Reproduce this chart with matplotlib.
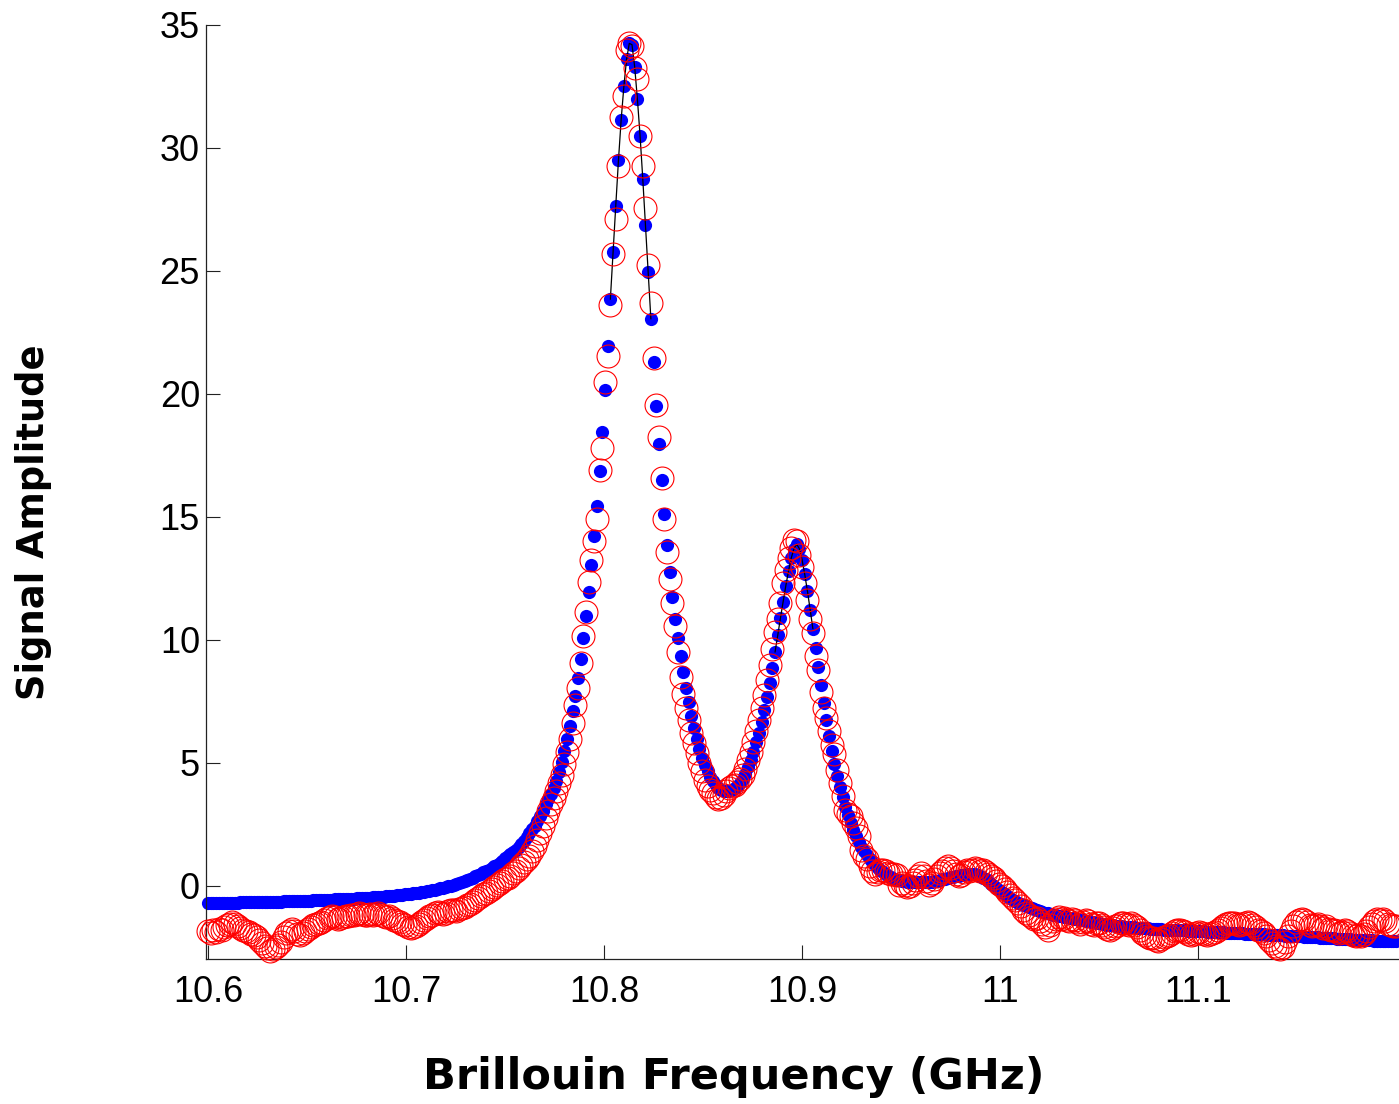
import numpy as np
import matplotlib
matplotlib.use("Agg")
from matplotlib import pyplot as plt

# frequency sweep (GHz), one sample per point
freqStart = 10.6
freqStop = 11.2

# fitted spectrum (blue dots)
fitAmplitude = [
    -0.71, -0.71, -0.71, -0.71, -0.70, -0.70, -0.70, -0.70, -0.70, -0.70,
    -0.70, -0.70, -0.69, -0.69, -0.69, -0.69, -0.69, -0.68, -0.68, -0.68,
    -0.68, -0.68, -0.67, -0.67, -0.67, -0.66, -0.66, -0.66, -0.65, -0.65,
    -0.65, -0.64, -0.64, -0.63, -0.63, -0.62, -0.62, -0.61, -0.61, -0.60,
    -0.60, -0.59, -0.59, -0.58, -0.58, -0.57, -0.57, -0.56, -0.56, -0.55,
    -0.55, -0.54, -0.54, -0.53, -0.53, -0.52, -0.52, -0.51, -0.50, -0.50,
    -0.49, -0.48, -0.47, -0.47, -0.46, -0.45, -0.44, -0.43, -0.42, -0.41,
    -0.40, -0.39, -0.38, -0.36, -0.35, -0.34, -0.32, -0.31, -0.29, -0.27,
    -0.25, -0.23, -0.21, -0.19, -0.17, -0.14, -0.12, -0.09, -0.06, -0.03,
    0.00, 0.04, 0.07, 0.11, 0.15, 0.19, 0.23, 0.27, 0.32, 0.37,
    0.42, 0.47, 0.53, 0.59, 0.65, 0.71, 0.78, 0.85, 0.93, 1.01,
    1.10, 1.18, 1.27, 1.36, 1.46, 1.57, 1.68, 1.81, 1.96, 2.12,
    2.28, 2.44, 2.62, 2.82, 3.05, 3.30, 3.50, 3.72, 3.96, 4.24,
    4.60, 5.02, 5.48, 5.97, 6.50, 7.08, 7.72, 8.42, 9.20, 10.05,
    10.95, 11.95, 13.05, 14.20, 15.45, 16.85, 18.45, 20.15, 21.95, 23.85,
    25.75, 27.65, 29.50, 31.15, 32.50, 33.60, 34.25, 34.20, 33.30, 32.00,
    30.50, 28.75, 26.85, 24.95, 23.05, 21.30, 19.50, 17.95, 16.50, 15.10,
    13.85, 12.75, 11.75, 10.85, 10.05, 9.35, 8.70, 8.05, 7.45, 6.90,
    6.40, 5.95, 5.55, 5.20, 4.90, 4.65, 4.43, 4.25, 4.10, 3.98,
    3.90, 3.85, 3.83, 3.84, 3.88, 3.95, 4.05, 4.18, 4.35, 4.55,
    4.80, 5.10, 5.45, 5.82, 6.22, 6.65, 7.12, 7.65, 8.22, 8.85,
    9.50, 10.18, 10.88, 11.55, 12.20, 12.80, 13.32, 13.70, 13.88, 13.70,
    13.25, 12.65, 11.97, 11.22, 10.45, 9.67, 8.90, 8.15, 7.42, 6.72,
    6.07, 5.47, 4.93, 4.45, 4.00, 3.58, 3.20, 2.85, 2.53, 2.25,
    2.00, 1.77, 1.57, 1.39, 1.23, 1.09, 0.96, 0.84, 0.73, 0.63,
    0.54, 0.46, 0.39, 0.33, 0.28, 0.24, 0.21, 0.19, 0.17, 0.16,
    0.15, 0.14, 0.14, 0.13, 0.13, 0.13, 0.14, 0.15, 0.16, 0.18,
    0.20, 0.22, 0.25, 0.27, 0.30, 0.33, 0.35, 0.38, 0.40, 0.42,
    0.44, 0.45, 0.46, 0.46, 0.45, 0.42, 0.38, 0.32, 0.25, 0.17,
    0.08, -0.01, -0.10, -0.19, -0.28, -0.36, -0.44, -0.51, -0.58, -0.64,
    -0.70, -0.75, -0.80, -0.85, -0.89, -0.93, -0.97, -1.01, -1.04, -1.07,
    -1.10, -1.13, -1.16, -1.18, -1.21, -1.23, -1.26, -1.28, -1.30, -1.32,
    -1.34, -1.36, -1.38, -1.40, -1.42, -1.44, -1.46, -1.48, -1.50, -1.52,
    -1.54, -1.56, -1.57, -1.59, -1.60, -1.62, -1.63, -1.64, -1.66, -1.67,
    -1.68, -1.69, -1.70, -1.70, -1.71, -1.72, -1.73, -1.74, -1.74, -1.75,
    -1.76, -1.77, -1.77, -1.78, -1.79, -1.79, -1.80, -1.80, -1.81, -1.82,
    -1.82, -1.83, -1.83, -1.84, -1.85, -1.85, -1.86, -1.86, -1.87, -1.87,
    -1.88, -1.88, -1.89, -1.90, -1.90, -1.91, -1.91, -1.92, -1.92, -1.93,
    -1.94, -1.94, -1.95, -1.95, -1.96, -1.96, -1.97, -1.97, -1.98, -1.98,
    -1.99, -1.99, -2.00, -2.00, -2.01, -2.02, -2.02, -2.03, -2.03, -2.04,
    -2.04, -2.05, -2.05, -2.06, -2.07, -2.07, -2.08, -2.08, -2.09, -2.10,
    -2.10, -2.11, -2.12, -2.12, -2.13, -2.14, -2.14, -2.15, -2.16, -2.16,
    -2.17, -2.18, -2.18, -2.19, -2.20, -2.20, -2.21, -2.21, -2.22, -2.22,
    -2.23, -2.23, -2.24, -2.24, -2.25, -2.25, -2.25, -2.26, -2.26, -2.27,
    -2.27,
]

# measured spectrum (red circles)
measAmplitude = [
    -1.85, -1.92, -1.80, -1.88, -1.76, -1.83, -1.70, -1.62, -1.55, -1.50,
    -1.58, -1.66, -1.72, -1.80, -1.84, -1.90, -1.96, -2.02, -2.10, -2.20,
    -2.35, -2.48, -2.56, -2.66, -2.60, -2.52, -2.40, -2.28, -2.10, -1.95,
    -1.84, -1.78, -1.85, -1.96, -2.02, -1.94, -1.84, -1.78, -1.70, -1.62,
    -1.58, -1.54, -1.50, -1.42, -1.34, -1.28, -1.24, -1.30, -1.36, -1.33,
    -1.30, -1.26, -1.22, -1.18, -1.20, -1.16, -1.12, -1.17, -1.21, -1.19,
    -1.16, -1.18, -1.14, -1.12, -1.18, -1.25, -1.28, -1.24, -1.32, -1.40,
    -1.44, -1.50, -1.56, -1.62, -1.68, -1.72, -1.70, -1.64, -1.55, -1.48,
    -1.40, -1.34, -1.26, -1.18, -1.10, -1.06, -1.12, -1.16, -1.10, -1.04,
    -1.00, -0.98, -1.02, -0.97, -0.92, -0.86, -0.80, -0.74, -0.66, -0.58,
    -0.50, -0.44, -0.36, -0.30, -0.22, -0.15, -0.06, 0.02, 0.10, 0.18,
    0.26, 0.32, 0.40, 0.50, 0.60, 0.72, 0.84, 0.96, 1.08, 1.22,
    1.40, 1.62, 1.86, 2.12, 2.42, 2.74, 3.02, 3.30, 3.55, 3.85,
    4.15, 4.50, 4.95, 5.45, 5.95, 6.60, 7.35, 8.05, 9.05, 10.14,
    11.11, 12.33, 13.23, 14.00, 14.91, 16.89, 17.80, 20.47, 21.55, 23.59,
    25.69, 27.12, 29.25, 31.26, 32.13, 34.00, 34.25, 34.15, 33.25, 32.80,
    30.47, 29.25, 27.56, 25.25, 23.70, 21.46, 19.56, 18.25, 16.58, 14.91,
    13.55, 12.47, 11.47, 10.57, 9.50, 8.50, 7.80, 7.20, 6.75, 6.20,
    5.80, 5.40, 5.00, 4.65, 4.30, 4.05, 3.90, 3.75, 3.60, 3.50,
    3.55, 3.70, 3.85, 3.95, 4.05, 4.10, 4.20, 4.35, 4.50, 4.75,
    5.10, 5.45, 5.85, 6.30, 6.75, 7.20, 7.75, 8.35, 8.95, 9.60,
    10.30, 10.85, 11.50, 12.30, 12.85, 13.33, 13.73, 14.05, 14.00, 13.45,
    12.95, 12.30, 11.60, 10.85, 10.25, 9.35, 8.75, 7.85, 7.20, 6.82,
    6.27, 5.73, 5.33, 4.70, 4.18, 3.63, 3.09, 2.90, 2.82, 2.55,
    2.35, 2.00, 1.46, 1.20, 1.06, 0.80, 0.60, 0.45, 0.55, 0.62,
    0.65, 0.58, 0.50, 0.46, 0.45, 0.42, 0.04, 0.10, 0.02, -0.05,
    -0.03, 0.10, 0.22, 0.38, 0.52, 0.40, 0.20, 0.04, 0.10, 0.25,
    0.40, 0.52, 0.60, 0.70, 0.78, 0.72, 0.60, 0.45, 0.38, 0.42,
    0.55, 0.65, 0.60, 0.65, 0.72, 0.68, 0.60, 0.65, 0.55, 0.45,
    0.38, 0.30, 0.18, 0.05, -0.03, -0.15, -0.28, -0.40, -0.50, -0.57,
    -0.70, -0.85, -1.00, -1.11, -1.20, -1.28, -1.38, -1.34, -1.45, -1.55,
    -1.70, -1.79, -1.60, -1.45, -1.38, -1.30, -1.36, -1.31, -1.40, -1.45,
    -1.38, -1.42, -1.50, -1.56, -1.48, -1.40, -1.46, -1.55, -1.60, -1.52,
    -1.52, -1.60, -1.70, -1.78, -1.79, -1.72, -1.66, -1.60, -1.54, -1.52,
    -1.56, -1.62, -1.52, -1.60, -1.70, -1.80, -1.92, -2.00, -2.08, -2.13,
    -2.13, -2.20, -2.26, -2.18, -2.10, -2.06, -2.00, -1.92, -1.86, -1.80,
    -1.79, -1.84, -1.90, -1.96, -2.00, -1.96, -1.93, -1.88, -1.92, -1.98,
    -2.02, -1.98, -1.93, -1.88, -1.80, -1.72, -1.64, -1.58, -1.54, -1.52,
    -1.52, -1.56, -1.62, -1.58, -1.52, -1.50, -1.52, -1.60, -1.70, -1.79,
    -1.85, -1.92, -2.05, -2.20, -2.35, -2.47, -2.55, -2.60, -2.50, -2.30,
    -2.06, -1.85, -1.65, -1.50, -1.42, -1.38, -1.40, -1.50, -1.60, -1.66,
    -1.62, -1.58, -1.66, -1.72, -1.66, -1.75, -1.80, -1.79, -1.86, -1.92,
    -1.88, -1.79, -1.84, -1.95, -2.02, -2.06, -2.00, -2.06, -1.98, -1.86,
    -1.70, -1.55, -1.45, -1.38, -1.40, -1.38, -1.46, -1.55, -1.62, -1.66,
    -1.66,
]

# frequency windows where the peak fit line is drawn (GHz)
peakWindows = [(10.8028, 10.8238), (10.8858, 10.9068)]

xTicks = [10.6, 10.7, 10.8, 10.9, 11.0, 11.1]
xTickLabels = ["10.6", "10.7", "10.8", "10.9", "11", "11.1"]
yTicks = [0, 5, 10, 15, 20, 25, 30, 35]


def setAxis(axis):
    axis.set_xlim(10.5987, 11.2015)
    axis.set_ylim(-3, 35)
    axis.spines["top"].set_visible(False)
    axis.spines["right"].set_visible(False)
    for side in ("left", "bottom"):
        axis.spines[side].set_color("#222222")
        axis.spines[side].set_linewidth(0.9)
    axis.set_xticks(xTicks)
    axis.set_xticklabels(xTickLabels)
    axis.set_yticks(yTicks)
    axis.tick_params(direction="in", length=10, width=0.8, colors="#222222",
                     labelcolor="black", labelsize=26)
    axis.tick_params(axis="x", pad=11)
    axis.tick_params(axis="y", pad=4)
    for label in axis.get_xticklabels() + axis.get_yticklabels():
        label.set_fontfamily("Liberation Sans")
    axis.set_xlabel("Brillouin Frequency (GHz)", fontsize=31, fontweight="bold",
                    family="DejaVu Sans")
    axis.set_ylabel("Signal Amplitude", fontsize=26.5, fontweight="bold",
                    family="DejaVu Sans")
    axis.xaxis.set_label_coords(0.443, -0.104)
    axis.yaxis.set_label_coords(-0.129, 0.468)


if __name__ == '__main__':
    freq = np.linspace(freqStart, freqStop, len(fitAmplitude))
    fit = np.array(fitAmplitude)
    meas = np.array(measAmplitude)

    figure = plt.figure(figsize=(13.99, 11.04), dpi=100)
    axis = figure.add_axes([0.1469, 0.1311, 0.8531, 0.8463])

    axis.plot(freq, fit, linestyle="none", marker="o", markersize=9.5,
              color="#0000ff", markeredgewidth=0, clip_on=False, zorder=2)
    for lo, hi in peakWindows:
        inWindow = (freq >= lo) & (freq <= hi)
        axis.plot(freq[inWindow], fit[inWindow], color="black", linewidth=0.9,
                  zorder=3)
    axis.plot(freq, meas, linestyle="none", marker="o", markersize=16.5,
              markerfacecolor="none", markeredgecolor="#ff0000",
              markeredgewidth=0.8, clip_on=False, zorder=4)

    setAxis(axis)
    figure.savefig("out.png", dpi=100)
